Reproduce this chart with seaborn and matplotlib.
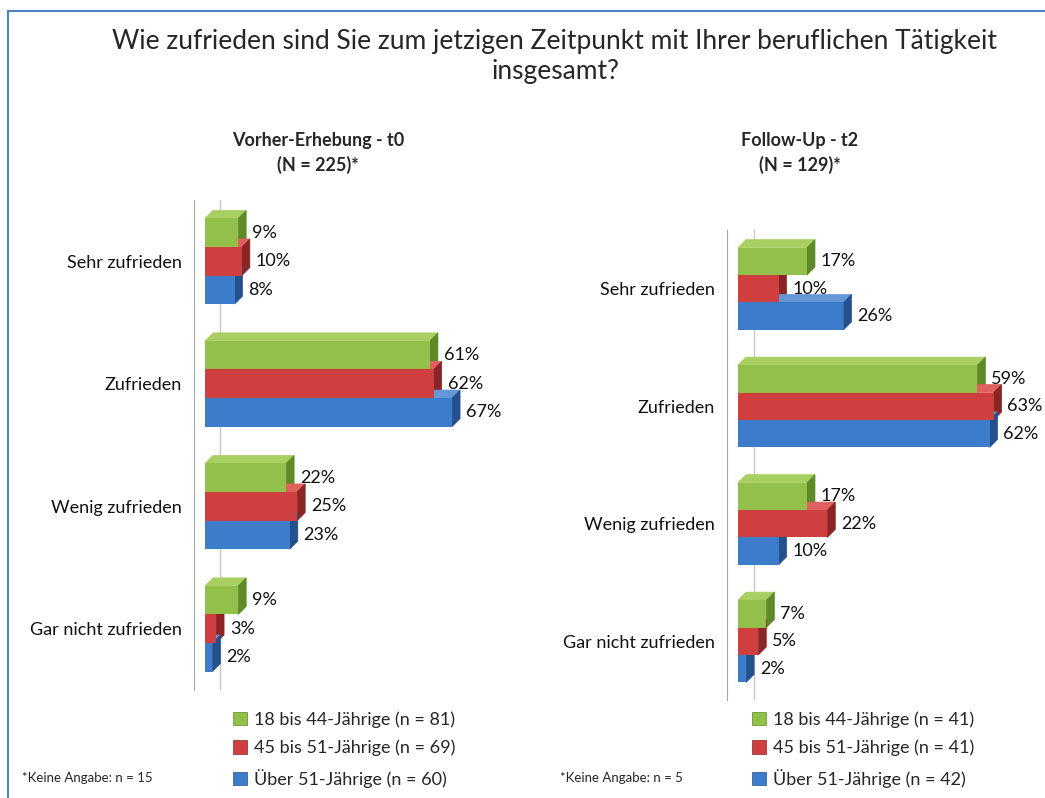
import matplotlib.pyplot as plt
import matplotlib.patches as mpatches
import seaborn as sns
import pandas as pd
import numpy as np

categories = ["Sehr zufrieden", "Zufrieden", "Wenig zufrieden", "Gar nicht zufrieden"]
groups = ["18 bis 44-Jährige", "45 bis 51-Jährige", "Über 51-Jährige"]

# Vorher-Erhebung t0 (Anteile in %)
t0_young = [9, 61, 22, 9]
t0_mid = [10, 62, 25, 3]
t0_old = [8, 67, 23, 2]
t0_n = [81, 69, 60]
t0_missing = 15

# Follow-Up t2 (Anteile in %)
t2_young = [17, 59, 17, 7]
t2_mid = [10, 63, 22, 5]
t2_old = [26, 62, 10, 2]
t2_n = [41, 41, 42]
t2_missing = 5

colors = ["#92C04A", "#D03F3F", "#3D7CCB"]
side_colors = ["#5E8A28", "#8B2424", "#24508C"]
top_colors = ["#A9CF62", "#E06060", "#6596D6"]

sns.set_style("white")
plt.rcParams["font.family"] = ["Lato", "DejaVu Sans"]

fig = plt.figure(figsize=(10.45, 7.98), dpi=100)
W, H = 1045, 798


def long_df(young, mid, old):
    rows = []
    for g, vals in zip(groups, [young, mid, old]):
        for c, v in zip(categories, vals):
            rows.append({"Kategorie": c, "Gruppe": g, "Anteil": v})
    return pd.DataFrame(rows)


def add_depth(ax, depth=8):
    # draw simple 3D side/top faces behind the bar fronts
    inv = ax.transData.inverted()
    for ci, cont in enumerate(ax.containers):
        for p in cont.patches:
            x0, y0, w, h = p.get_x(), p.get_y(), p.get_width(), p.get_height()
            (px0, py_a), (px1, py_b) = ax.transData.transform([(x0, y0), (x0 + w, y0 + h)])
            ptop, pbot = max(py_a, py_b), min(py_a, py_b)
            side = [(px1, pbot), (px1 + depth, pbot + depth), (px1 + depth, ptop + depth), (px1, ptop)]
            top = [(px0, ptop), (px0 + depth, ptop + depth), (px1 + depth, ptop + depth), (px1, ptop)]
            for pts, col in [(top, top_colors[ci]), (side, side_colors[ci])]:
                poly = mpatches.Polygon(inv.transform(pts), closed=True, facecolor=col,
                                        edgecolor=col, lw=0.5, zorder=1)
                ax.add_patch(poly)


def draw_panel(rect, df, xmax, ns, subtitle, sub_x, missing, legend_x, note_x):
    ax = fig.add_axes(rect)
    sns.barplot(data=df, y="Kategorie", x="Anteil", hue="Gruppe", orient="h",
                order=categories, hue_order=groups, palette=colors, width=0.7,
                saturation=1, legend=False, ax=ax, zorder=2, edgecolor="none")
    ax.set_xlim(0, xmax)
    ax.set_ylim(3.5, -0.5)
    ax.set_xlabel("")
    ax.set_ylabel("")
    ax.set_xticks([])
    for s in ["top", "right", "bottom"]:
        ax.spines[s].set_visible(False)
    ax.spines["left"].set_color("#A6A6A6")
    ax.spines["left"].set_position(("outward", 8))
    ax.axvline(4, color="#C8C8C8", lw=1, zorder=0)
    ax.tick_params(axis="y", which="major", length=0, pad=9, labelsize=13, labelcolor="#111111")
    ax.set_yticks(np.arange(-0.5, 4, 1), minor=True)
    ax.tick_params(axis="y", which="minor", length=7, color="#A6A6A6", direction="out")

    add_depth(ax)
    for cont in ax.containers:
        ax.bar_label(cont, labels=[f"{v:.0f}%" for v in cont.datavalues],
                     padding=10, fontsize=13, color="#111111")

    fig.text(sub_x / W, 1 - 153 / H, subtitle, ha="center", va="center",
             fontsize=13, fontweight="bold", linespacing=1.4)

    handles = [mpatches.Patch(facecolor=c, edgecolor=sc, lw=0.5) for c, sc in zip(colors, side_colors)]
    labels = [f"{g} (n = {n})" for g, n in zip(groups, ns)]
    fig.legend(handles, labels, loc="upper left", bbox_to_anchor=(legend_x / W, 1 - 711 / H),
               frameon=False, fontsize=13, handlelength=0.75, handleheight=0.75,
               handletextpad=0.4, labelspacing=0.68, borderpad=0, borderaxespad=0)
    fig.text(note_x / W, 1 - 778 / H, f"*Keine Angabe: n = {missing}", ha="left",
             va="center", fontsize=9.5)
    return ax


draw_panel([205 / W, 1 - 690 / H, 295 / W, 490 / H],
           long_df(t0_young, t0_mid, t0_old), 80, t0_n,
           "Vorher-Erhebung - t0\n(N = 225)*", 318, t0_missing, 233, 22)
draw_panel([738 / W, 1 - 700 / H, 284 / W, 470 / H],
           long_df(t2_young, t2_mid, t2_old), 70, t2_n,
           "Follow-Up - t2\n(N = 129)*", 800, t2_missing, 752, 560)

fig.text(555 / W, 1 - 57 / H,
         "Wie zufrieden sind Sie zum jetzigen Zeitpunkt mit Ihrer beruflichen Tätigkeit\ninsgesamt?",
         ha="center", va="center", fontsize=19, linespacing=1.25)

border = mpatches.Rectangle((8 / W, -0.1), 1.2, 1.1 - 11 / H, transform=fig.transFigure,
                            fill=False, edgecolor="#4F81BD", lw=1.5, clip_on=False)
fig.add_artist(border)

fig.savefig("out.png", dpi=100)
